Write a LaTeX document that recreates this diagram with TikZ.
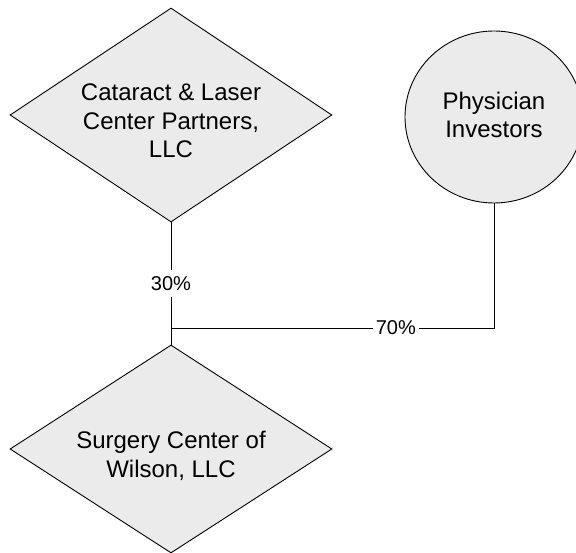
\documentclass[tikz,border=0pt]{standalone}
\usepackage{fontspec}
\setmainfont{Liberation Sans}
\usetikzlibrary{shapes.geometric}
\begin{document}
\begin{tikzpicture}[x=1pt,y=-1pt,
  entity/.style={draw=black, line width=0.9pt, fill=gray!16, inner sep=0pt},
  dia/.style={entity, diamond, minimum width=322pt, minimum height=214pt},
  circ/.style={entity, ellipse, minimum width=178pt, minimum height=172pt},
  txt/.style={align=center, inner sep=0pt, font=\fontsize{24}{28.5}\selectfont},
  pct/.style={fill=white, inner sep=3pt, font=\fontsize{20}{24}\selectfont},
  link/.style={draw=black, line width=0.8pt}]
\useasboundingbox (0,0) rectangle (576,553);
\node[dia, label={[txt, yshift=-6pt]center:Cataract \& Laser\\Center Partners,\\LLC}] (cat) at (171,115) {};
\node[dia, minimum height=208pt, label={[txt, yshift=-7pt]center:Surgery Center of\\Wilson, LLC}] (surg) at (171,449) {};
\node[circ, label={[txt, yshift=2pt]center:Physician\\Investors}] (phys) at (494,117) {};
\coordinate (j) at (171,328);
\draw[link] (cat.south) -- node[pct, inner ysep=6pt, pos=0.5]{30\%} (surg.north);
\draw[link] (j) -| node[pct, pos=0.348]{70\%} (phys.south);
\end{tikzpicture}
\end{document}
